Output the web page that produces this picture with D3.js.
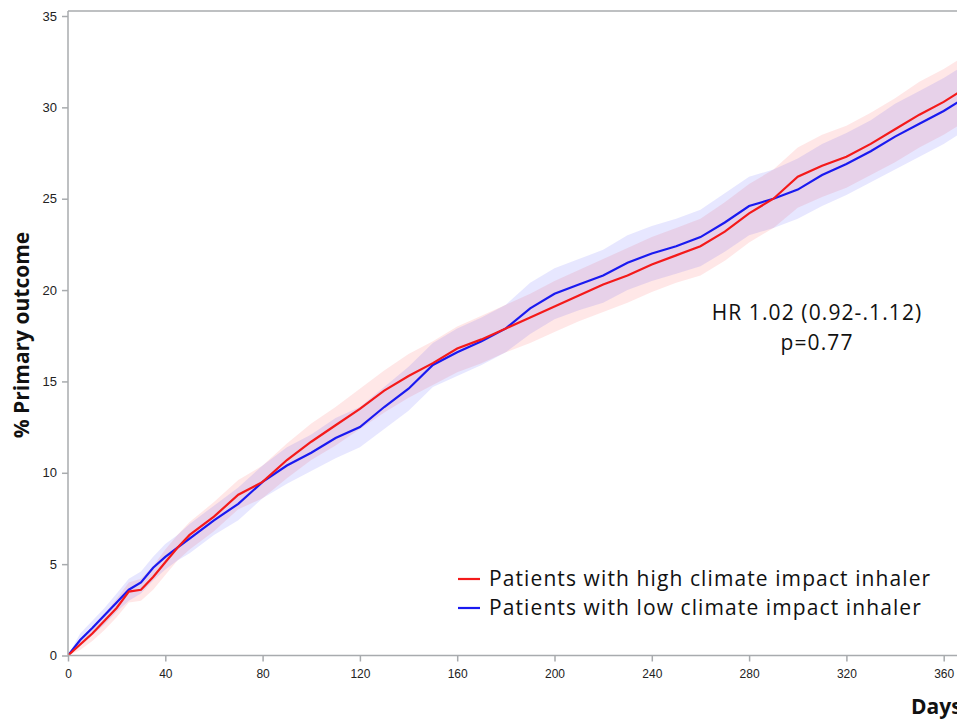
<!DOCTYPE html>
<html>
<head>
<meta charset="utf-8">
<script src="https://cdn.jsdelivr.net/npm/d3@7"></script>
<style>
  body { margin: 0; background: #fff; }
  svg { display: block; }
  .axis path, .axis line { stroke: #a8abae; stroke-width: 1.5; }
  .axis text { font-family: "Liberation Sans", Arial, sans-serif; fill: #222; }
  .label { font-family: "Open Sans", Lato, sans-serif; fill: #111; }
</style>
</head>
<body>
<div id="chart"></div>
<script>
const days = [0, 5, 10, 15, 20, 25, 30, 35, 40, 45, 50, 60, 70, 80, 90, 100, 110, 120, 130, 140, 150,
  160, 170, 180, 190, 200, 210, 220, 230, 240, 250, 260, 270, 280, 290, 300, 310, 320, 330, 340, 350, 360, 366];

// high climate impact inhaler (red)
const highVals = [0, 0.6, 1.2, 1.9, 2.6, 3.5, 3.6, 4.3, 5.1, 5.9, 6.6, 7.6, 8.8, 9.5, 10.7, 11.7, 12.6, 13.5, 14.5, 15.3, 16.0,
  16.8, 17.3, 17.9, 18.5, 19.1, 19.7, 20.3, 20.8, 21.4, 21.9, 22.4, 23.2, 24.2, 25.0, 26.2, 26.8, 27.3, 28.0, 28.8, 29.6, 30.3, 30.8];
const highLo = [0, 0.3, 0.8, 1.4, 2.1, 2.9, 3.0, 3.6, 4.4, 5.2, 5.8, 6.8, 8.0, 8.6, 9.7, 10.7, 11.5, 12.4, 13.3, 14.1, 14.8,
  15.5, 16.0, 16.6, 17.1, 17.7, 18.3, 18.8, 19.3, 19.9, 20.4, 20.8, 21.6, 22.6, 23.4, 24.5, 25.1, 25.6, 26.3, 27.0, 27.8, 28.5, 29.0];
const highHi = [0, 0.9, 1.6, 2.3, 3.1, 4.0, 4.2, 4.9, 5.8, 6.6, 7.3, 8.4, 9.6, 10.4, 11.6, 12.7, 13.6, 14.6, 15.6, 16.5, 17.2,
  18.0, 18.6, 19.2, 19.8, 20.5, 21.1, 21.7, 22.3, 22.9, 23.4, 23.9, 24.8, 25.8, 26.6, 27.8, 28.5, 29.0, 29.7, 30.5, 31.4, 32.1, 32.6];

// low climate impact inhaler (blue)
const lowVals = [0, 0.85, 1.5, 2.2, 2.9, 3.6, 4.0, 4.8, 5.4, 5.9, 6.4, 7.4, 8.3, 9.5, 10.4, 11.1, 11.9, 12.5, 13.6, 14.6, 15.9,
  16.6, 17.2, 17.9, 19.0, 19.8, 20.3, 20.8, 21.5, 22.0, 22.4, 22.9, 23.7, 24.6, 25.0, 25.5, 26.3, 26.9, 27.6, 28.4, 29.1, 29.8, 30.3];
const lowLo = [0, 0.5, 1.1, 1.7, 2.4, 3.0, 3.4, 4.1, 4.7, 5.2, 5.6, 6.6, 7.4, 8.6, 9.4, 10.1, 10.8, 11.4, 12.4, 13.4, 14.7,
  15.3, 15.9, 16.6, 17.6, 18.4, 18.9, 19.3, 20.0, 20.5, 20.9, 21.3, 22.1, 23.0, 23.4, 23.9, 24.6, 25.2, 25.9, 26.6, 27.3, 28.0, 28.5];
const lowHi = [0, 1.2, 1.9, 2.6, 3.4, 4.2, 4.6, 5.4, 6.1, 6.6, 7.2, 8.2, 9.2, 10.4, 11.4, 12.1, 13.0, 13.6, 14.7, 15.8, 17.1,
  17.9, 18.5, 19.2, 20.4, 21.2, 21.7, 22.2, 23.0, 23.5, 23.9, 24.4, 25.3, 26.2, 26.6, 27.2, 28.0, 28.6, 29.3, 30.2, 30.9, 31.6, 32.1];

const xTicks = [0, 40, 80, 120, 160, 200, 240, 280, 320, 360];
const yTicks = [0, 5, 10, 15, 20, 25, 30, 35];
const legendLabels = ["Patients with high climate impact inhaler", "Patients with low climate impact inhaler"];
const hrLines = ["HR 1.02 (0.92-.1.12)", "p=0.77"];

const width = 957, height = 719;
const margin = { top: 11, left: 68, bottom: 64 };

const svg = d3.select("#chart").append("svg")
  .attr("width", width)
  .attr("height", height);

const x = d3.scaleLinear([0, 40], [margin.left, margin.left + 97.3]);
const y = d3.scaleLinear([0, 35], [655.5, 16]);

const groups = [
  { name: legendLabels[0], vals: highVals, lo: highLo, hi: highHi, color: "#f41a1a", band: "rgba(255,40,40,0.11)" },
  { name: legendLabels[1], vals: lowVals, lo: lowLo, hi: lowHi, color: "#1a1af0", band: "rgba(40,40,255,0.11)" }
];

svg.append("clipPath").attr("id", "plot")
  .append("rect")
  .attr("x", margin.left).attr("y", margin.top)
  .attr("width", width - margin.left).attr("height", 655.5 - margin.top);

const plot = svg.append("g").attr("clip-path", "url(#plot)");

// confidence bands
groups.forEach(g => {
  const area = d3.area()
    .x((d, i) => x(days[i]))
    .y0((d, i) => y(g.lo[i]))
    .y1((d, i) => y(g.hi[i]));
  plot.append("path")
    .attr("d", area(days))
    .attr("fill", g.band);
});

// cumulative incidence lines (low first, high on top)
[groups[1], groups[0]].forEach(g => {
  const line = d3.line()
    .x((d, i) => x(days[i]))
    .y((d, i) => y(g.vals[i]));
  plot.append("path")
    .attr("d", line(days))
    .attr("fill", "none")
    .attr("stroke", g.color)
    .attr("stroke-width", 2.2);
});

// frame top line
svg.append("line")
  .attr("x1", margin.left).attr("x2", width)
  .attr("y1", margin.top).attr("y2", margin.top)
  .attr("stroke", "#a8abae").attr("stroke-width", 1.5);

const yAxis = d3.axisLeft(y).tickValues(yTicks).tickSize(6).tickPadding(5).tickSizeOuter(0);
const gy = svg.append("g")
  .attr("class", "axis")
  .attr("transform", `translate(${margin.left},0)`)
  .call(yAxis);
gy.select(".domain").attr("d", `M0,${margin.top}V655.5`);
gy.selectAll("text").style("font-size", "13px");

const xAxis = d3.axisBottom(x).tickValues(xTicks).tickSize(6).tickPadding(8).tickSizeOuter(0);
const gx = svg.append("g")
  .attr("class", "axis")
  .attr("transform", "translate(0,655.5)")
  .call(xAxis);
gx.select(".domain").attr("d", `M${margin.left},0H${width}`);
gx.selectAll("text").style("font-size", "12px");

// axis titles
svg.append("text")
  .attr("class", "label")
  .attr("transform", "translate(29,335) rotate(-90)")
  .attr("text-anchor", "middle")
  .style("font-weight", "bold")
  .style("font-size", "21px")
  .text("% Primary outcome");

// the x title sits at the page edge, partly cut off as in the original figure
svg.append("text")
  .attr("class", "label")
  .attr("x", 911).attr("y", 714)
  .style("font-weight", "bold")
  .style("font-size", "21px")
  .text("Days");

// HR annotation
svg.append("g").selectAll("text")
  .data(hrLines)
  .join("text")
  .attr("class", "label")
  .attr("x", 817)
  .attr("y", (d, i) => 320 + i * 30)
  .attr("text-anchor", "middle")
  .style("font-size", "21px")
  .style("letter-spacing", "1.1px")
  .text(d => d);

// legend
const legend = svg.append("g").attr("transform", "translate(458,579)");
const item = legend.selectAll("g")
  .data(groups)
  .join("g")
  .attr("transform", (d, i) => `translate(0,${i * 29})`);
item.append("line")
  .attr("x1", 0).attr("x2", 22)
  .attr("stroke", d => d.color)
  .attr("stroke-width", 2.2);
item.append("text")
  .attr("class", "label")
  .attr("x", 31).attr("y", 7)
  .style("font-size", "21px")
  .style("letter-spacing", "1.1px")
  .text(d => d.name);
</script>
</body>
</html>
